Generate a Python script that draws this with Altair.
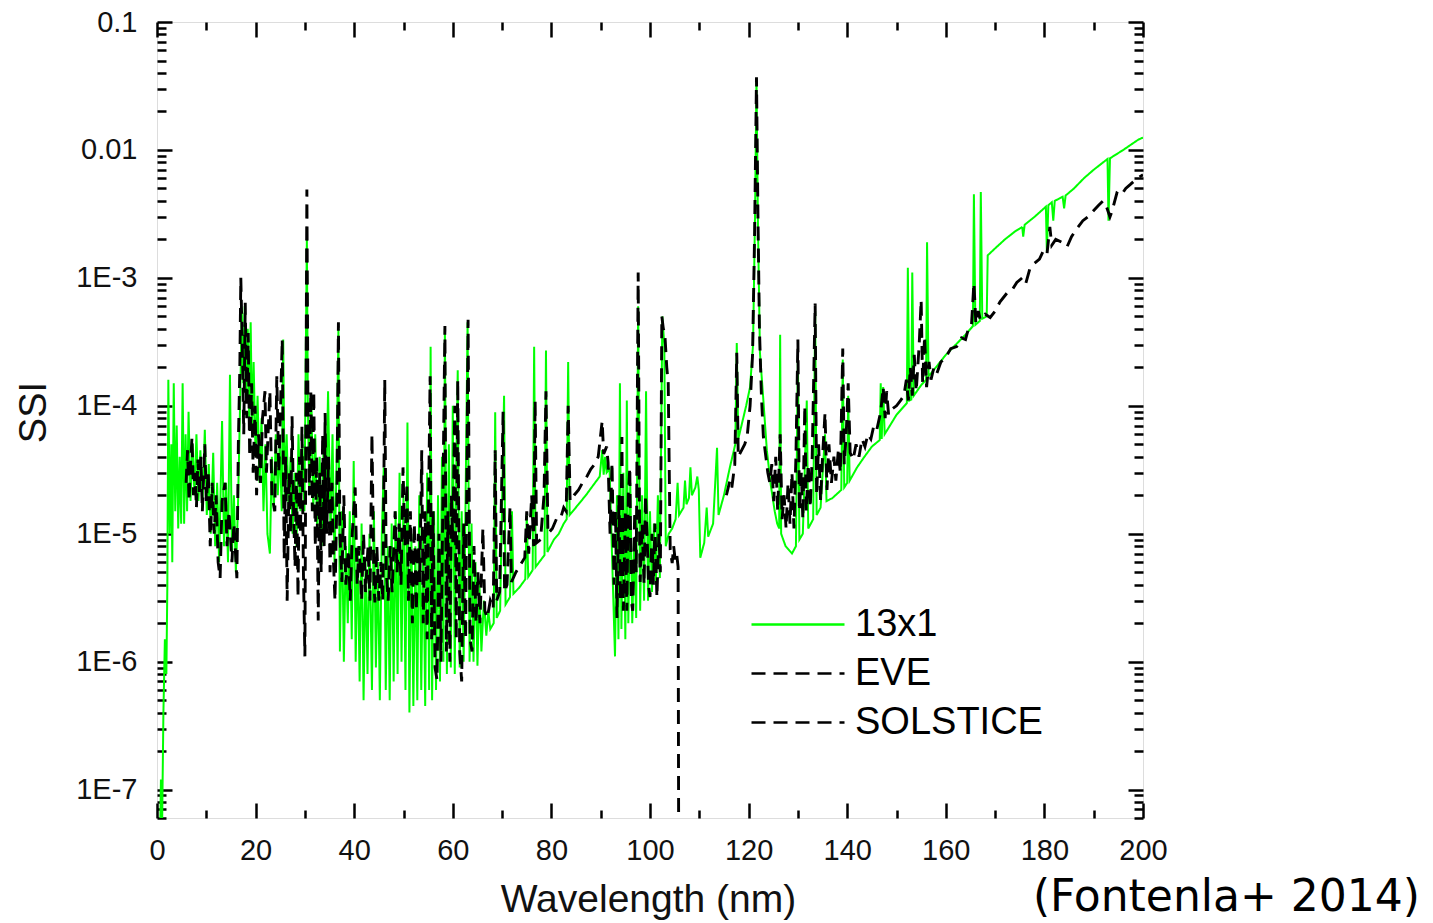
import altair as alt
import pandas as pd

# ---- data: (wavelength nm, SSI) ----
GREEN_13X1 = [
    (0.5, 2e-8), (0.8, 1.2e-7), (1.0, 4e-8), (1.3, 4e-7), (1.6, 1.5e-6), (1.9, 8e-7), (2.1, 4e-6),
    (2.3, 1.6e-4), (2.6, 1e-5), (2.9, 5e-5), (3.1, 6e-6), (3.4, 1.5e-4), (3.7, 1.5e-5), (4.0, 7e-5),
    (4.3, 1.1e-5), (4.6, 4e-5), (4.9, 1.2e-5), (5.2, 1.5e-4), (5.5, 1.2e-5), (5.8, 6e-5), (6.1, 1.5e-5),
    (6.4, 9e-5), (6.8, 1.8e-5), (7.2, 5e-5), (7.6, 2e-5), (8.0, 6e-5), (8.4, 1.8e-5), (8.8, 4.5e-5),
    (9.2, 1.6e-5), (9.7, 6.5e-5), (10.1, 1.4e-5), (10.5, 3.5e-5), (10.9, 1e-5), (11.4, 4.3e-5),
    (11.8, 8e-6), (12.2, 2.5e-5), (12.6, 6e-6), (13.2, 7.6e-5), (13.6, 8e-6), (14.0, 2.5e-5),
    (14.4, 6e-6), (14.8, 1.75e-4), (15.2, 7e-6), (15.6, 2e-5), (16.0, 5e-6), (16.4, 1.5e-5),
    (16.8, 8e-5), (17.2, 5.5e-4), (17.5, 1.5e-4), (17.8, 6e-4), (18.1, 1.2e-4), (18.4, 4e-4),
    (18.7, 8e-5), (19.0, 4.5e-4), (19.3, 6e-5), (19.6, 2.2e-4), (20.0, 4e-5), (20.4, 1.2e-4),
    (20.8, 2.5e-5), (21.2, 8e-5), (21.6, 1.5e-5), (22.0, 5e-5), (22.4, 1e-5), (22.9, 7e-6),
    (23.3, 4e-5), (23.7, 1.5e-5), (24.1, 6e-5), (24.5, 2e-5), (24.9, 5e-5), (25.3, 1.5e-5),
    (25.6, 3.3e-4), (25.9, 2e-5), (26.3, 6e-5), (26.7, 1.5e-5), (27.1, 4e-5), (27.5, 1e-5),
    (27.9, 3e-5), (28.3, 8e-6), (28.7, 6e-5), (29.1, 1.5e-5), (29.5, 5e-5), (29.9, 1.5e-5),
    (30.2, 3e-4), (30.4, 2e-3), (30.6, 1e-4), (30.9, 2e-5), (31.3, 1.2e-4), (31.7, 1.5e-5),
    (32.1, 6e-5), (32.5, 1e-5), (33.0, 4e-5), (33.4, 8e-6), (33.8, 5e-5), (34.2, 1.2e-5),
    (34.7, 1.3e-4), (35.2, 1e-5), (35.6, 6e-5), (36.0, 6e-6), (36.4, 3e-5), (36.8, 4e-4),
    (37.1, 1.2e-6), (37.5, 1.5e-5), (37.9, 1e-6), (38.3, 8e-6), (38.7, 2e-6), (39.1, 1.5e-5),
    (39.5, 1.5e-6), (39.9, 3.7e-5), (40.3, 1e-6), (40.7, 8e-6), (41.1, 7e-7), (41.5, 1.2e-5),
    (41.9, 5e-7), (42.3, 6e-6), (42.7, 8e-7), (43.1, 1e-5), (43.6, 6e-7), (44.0, 1.5e-5),
    (44.4, 9e-7), (44.8, 6e-6), (45.2, 5e-7), (45.6, 1e-5), (46.0, 3.3e-5), (46.4, 6e-7),
    (46.8, 8e-6), (47.2, 5e-7), (47.6, 1.2e-5), (48.0, 7e-7), (48.4, 1.5e-5), (48.8, 8e-7),
    (49.2, 3e-5), (49.6, 1e-6), (50.0, 2e-5), (50.4, 6e-7), (50.8, 7.4e-5), (51.2, 4e-7),
    (51.6, 1e-5), (52.0, 4.5e-7), (52.4, 8e-6), (52.8, 5e-7), (53.2, 2e-5), (53.6, 6e-7),
    (54.0, 1e-5), (54.4, 4.5e-7), (54.8, 3e-5), (55.2, 6e-7), (55.5, 2.9e-4), (55.8, 5e-7),
    (56.2, 1.5e-5), (56.6, 6e-7), (57.0, 2e-5), (57.4, 7e-7), (57.8, 4e-5), (58.1, 1e-6),
    (58.4, 4e-4), (58.8, 8e-7), (59.2, 5e-5), (59.6, 9e-7), (60.0, 1e-4), (60.4, 8e-7),
    (60.7, 3e-5), (61.0, 1.9e-4), (61.4, 9e-7), (61.8, 1.5e-5), (62.2, 1e-6), (62.6, 2e-5),
    (63.0, 4.5e-4), (63.4, 1e-6), (63.8, 1.2e-5), (64.2, 1e-6), (64.6, 6e-6), (65.0, 9.3e-7),
    (65.4, 4e-6), (65.8, 1.2e-6), (66.3, 3e-6), (66.8, 1.6e-6), (67.2, 2.5e-6), (67.6, 1.8e-6),
    (68.3, 2e-6), (68.6, 8.9e-5), (68.9, 2.2e-6), (69.6, 2.5e-6), (70.4, 1.2e-4), (70.7, 2.8e-6),
    (71.6, 3.2e-6), (72.0, 1.5e-5), (72.3, 3.4e-6), (73.5, 3.8e-6), (74.7, 4.4e-6), (75.0, 1.4e-5),
    (75.3, 4.6e-6), (76.2, 5.2e-6), (76.5, 2.9e-4), (76.8, 5.5e-6), (77.8, 6.2e-6), (78.6, 6.8e-6),
    (78.9, 2.7e-4), (79.2, 7.2e-6), (80.5, 9e-6), (81.5, 1e-5), (82.5, 1.2e-5), (83.1, 1.3e-5),
    (83.4, 2.2e-4), (83.7, 1.4e-5), (85.5, 1.7e-5), (87.0, 2e-5), (88.5, 2.4e-5), (89.8, 2.8e-5),
    (90.3, 4.5e-5), (90.6, 2.9e-5), (90.9, 4e-5), (91.2, 3e-5), (91.8, 3.2e-5), (92.4, 5e-6),
    (92.9, 1.1e-6), (93.3, 2e-5), (93.6, 1.5e-6), (93.9, 1.5e-4), (94.2, 1.8e-6), (94.6, 3e-5),
    (95.0, 1.5e-6), (95.3, 1.1e-4), (95.6, 2e-6), (96.0, 2.5e-5), (96.4, 2e-6), (96.8, 8e-6),
    (97.2, 2.2e-6), (97.6, 6e-4), (98.0, 2.5e-6), (98.4, 2e-5), (98.8, 3e-6), (99.2, 1.3e-4),
    (99.6, 3e-6), (100.0, 1.5e-5), (100.4, 3.5e-6), (100.8, 1.2e-5), (101.2, 4e-6), (101.6, 2e-5),
    (102.0, 4.5e-6), (102.5, 5e-4), (102.9, 3e-4), (103.2, 8e-6), (103.8, 1e-5), (104.5, 1.1e-5),
    (105.2, 1.3e-5), (105.6, 2.5e-5), (105.9, 1.4e-5), (106.8, 1.6e-5), (107.1, 2.6e-5),
    (107.4, 1.7e-5), (107.9, 1.9e-5), (108.2, 3.3e-5), (108.5, 2e-5), (109.2, 2.3e-5),
    (109.6, 2.8e-5), (109.9, 2.2e-5), (110.2, 6.5e-6), (111.0, 8.5e-6), (111.5, 1.6e-5),
    (111.8, 9.5e-6), (112.8, 1.2e-5), (113.6, 4.7e-5), (113.9, 1.4e-5), (115.0, 2e-5),
    (116.2, 3.3e-5), (117.3, 5e-5), (117.6, 3.1e-4), (117.9, 5.5e-5), (118.7, 7.4e-5),
    (119.5, 1e-4), (120.3, 1.4e-4), (120.9, 3e-4), (121.3, 3e-3), (121.6, 3.6e-2), (121.9, 2.5e-3),
    (122.3, 2.6e-4), (123.0, 1.1e-4), (123.7, 4.5e-5), (124.5, 2.4e-5), (125.3, 1.5e-5),
    (125.8, 1.2e-5), (126.2, 1.1e-5), (126.4, 3.6e-4), (126.6, 1e-5), (127.5, 8e-6), (128.8, 7e-6),
    (129.6, 8e-6), (130.0, 2.5e-4), (130.3, 9e-6), (131.0, 1e-5), (131.8, 1.1e-4), (132.1, 1.1e-5),
    (133.1, 1.3e-5), (133.5, 5.5e-4), (133.8, 1.4e-5), (134.6, 1.6e-5), (135.5, 6e-5),
    (135.8, 1.8e-5), (137.0, 1.9e-5), (138.8, 2.2e-5), (139.1, 2.3e-4), (139.4, 2.3e-5),
    (140.0, 2.5e-5), (140.2, 1.2e-4), (140.5, 2.6e-5), (142.0, 3.3e-5), (143.5, 4e-5),
    (145.0, 4.8e-5), (146.6, 5.4e-5), (146.8, 1.5e-4), (147.0, 5.5e-5), (147.3, 1.4e-4),
    (147.6, 6e-5), (150.0, 8.5e-5), (152.1, 1.05e-4), (152.3, 1.2e-3), (152.6, 1.1e-4),
    (153.0, 1.12e-4), (153.2, 1.1e-3), (153.5, 1.2e-4), (155.0, 1.45e-4), (156.0, 1.6e-4),
    (156.2, 1.9e-3), (156.5, 1.7e-4), (158.0, 2e-4), (160.0, 2.5e-4), (162.0, 3e-4),
    (164.0, 3.6e-4), (165.5, 4.2e-4), (165.7, 4.5e-3), (166.0, 4.3e-4), (166.9, 4.6e-4),
    (167.1, 4.7e-3), (167.4, 4.8e-4), (168.3, 5e-4), (168.5, 1.5e-3), (170.0, 1.7e-3),
    (172.0, 2e-3), (174.0, 2.3e-3), (175.5, 2.5e-3), (175.7, 2.1e-3), (176.0, 2.6e-3),
    (178.0, 3e-3), (180.3, 3.6e-3), (180.5, 1.6e-3), (180.8, 3.7e-3), (181.5, 3.9e-3),
    (181.8, 2.8e-3), (182.1, 4e-3), (183.7, 4.3e-3), (184.0, 3.5e-3), (184.3, 4.4e-3),
    (186.0, 5e-3), (188.0, 6e-3), (190.0, 7e-3), (192.8, 8.5e-3), (193.0, 2.8e-3),
    (193.3, 8.6e-3), (196.0, 1e-2), (199.0, 1.2e-2), (200.0, 1.25e-2),
]

EVE = [
    (5.9, 2.5e-5), (6.2, 4.5e-5), (6.5, 1.8e-5), (6.8, 3.5e-5), (7.1, 5.7e-5), (7.4, 2e-5),
    (7.7, 3e-5), (8.0, 1.6e-5), (8.3, 3.8e-5), (8.6, 2e-5), (8.9, 4e-5), (9.2, 1.5e-5),
    (9.7, 5e-5), (10.0, 1.8e-5), (10.4, 3e-5), (10.8, 8e-6), (11.2, 2.5e-5), (11.6, 1e-5),
    (12.0, 2e-5), (12.4, 6e-6), (12.8, 4.5e-6), (13.2, 1.8e-5), (13.8, 2.5e-5), (14.2, 8e-6),
    (14.6, 1.5e-5), (15.2, 6e-6), (15.6, 1.2e-5), (16.2, 4.5e-6), (16.5, 5e-5), (16.8, 2e-4),
    (17.0, 1e-3), (17.3, 3e-4), (17.6, 6e-5), (17.9, 6.4e-4), (18.2, 8e-5), (18.5, 3.7e-4),
    (18.8, 4e-5), (19.2, 1.5e-4), (19.5, 3e-5), (19.9, 1e-4), (20.2, 2e-5), (20.6, 6e-5),
    (21.0, 2.5e-5), (21.4, 8e-5), (21.9, 1.3e-4), (22.2, 3e-5), (22.6, 7e-5), (22.9, 1.3e-4),
    (23.3, 2e-5), (23.9, 1.5e-5), (24.3, 1.7e-4), (24.7, 3e-5), (25.0, 8e-5), (25.4, 3.3e-4),
    (25.8, 6.3e-6), (26.1, 4e-5), (26.4, 3e-6), (26.8, 3e-5), (27.1, 1e-5), (27.4, 8.3e-5),
    (27.7, 1.5e-5), (28.0, 5.5e-6), (28.3, 3e-5), (28.6, 3.2e-6), (28.9, 4e-5), (29.1, 1e-5),
    (29.4, 6.9e-5), (29.7, 5e-6), (30.0, 1.1e-6), (30.4, 4.9e-3), (30.6, 1.3e-4), (30.9, 2e-5),
    (31.2, 1.3e-4), (31.5, 1.5e-5), (31.8, 1.3e-4), (32.1, 8e-6), (32.4, 4e-5), (32.7, 2.1e-6),
    (33.0, 3e-5), (33.3, 5e-6), (33.6, 6e-5), (33.9, 8e-6), (34.1, 8.8e-5), (34.4, 1e-5),
    (34.8, 4e-5), (35.1, 5e-6), (35.5, 2.5e-5), (35.8, 6e-6), (36.1, 3e-6), (36.5, 2e-5),
    (36.8, 4.5e-4), (37.1, 1e-5), (37.5, 4.2e-6), (37.9, 2e-5), (38.3, 4e-6), (38.8, 7.5e-6),
    (39.2, 3e-6), (39.6, 1e-5), (40.2, 2.3e-5), (40.6, 4e-6), (41.0, 8e-6), (41.5, 3e-6),
    (41.9, 1e-5), (42.3, 3.5e-6), (42.8, 8e-6), (43.2, 3e-6), (43.6, 6e-5), (44.0, 4e-6),
    (44.2, 2.9e-6), (44.6, 8e-6), (45.0, 3e-6), (45.4, 6e-6), (45.8, 3e-6), (46.2, 1.6e-4),
    (46.5, 5e-6), (46.9, 3e-6), (47.3, 8e-6), (47.7, 3.5e-6), (48.3, 1.5e-5), (48.7, 5e-6),
    (49.1, 1.2e-5), (49.5, 4e-6), (49.9, 3.3e-5), (50.3, 8e-6), (50.7, 2.5e-5), (51.0, 3e-6),
    (51.4, 1.5e-5), (51.8, 2e-6), (52.2, 1.2e-5), (52.6, 2.5e-6), (53.0, 1e-5), (53.3, 4.2e-6),
    (53.7, 4.5e-5), (54.0, 2e-6), (54.4, 1.5e-5), (54.8, 1.5e-6), (55.1, 2e-5), (55.4, 1.7e-4),
    (55.7, 1.5e-6), (56.0, 1.5e-5), (56.4, 9e-7), (56.8, 7.2e-7), (57.2, 1e-5), (57.6, 1e-6),
    (58.0, 2e-5), (58.4, 4.2e-4), (58.7, 1.2e-6), (59.0, 1.5e-5), (59.4, 1e-6), (59.7, 2e-5),
    (60.0, 8.6e-6), (60.4, 1e-4), (60.7, 1.5e-6), (61.0, 1.6e-4), (61.4, 1.2e-6), (61.8, 7e-7),
    (62.2, 1.2e-5), (62.6, 1.5e-6), (63.1, 4.7e-4), (63.5, 1.5e-6), (63.9, 1.2e-6), (64.3, 8e-6),
    (64.7, 2e-6), (65.1, 5e-6), (65.5, 2e-6), (66.1, 1.1e-5), (66.5, 2.5e-6), (67.0, 2.2e-6),
    (67.6, 3e-6), (68.2, 2.6e-6), (68.6, 4.5e-5), (68.9, 3e-6), (69.5, 3.5e-6), (70.2, 9e-5),
    (70.5, 3.5e-6), (71.0, 4e-6), (71.6, 1.6e-5), (71.9, 4.2e-6), (72.8, 5e-6), (73.8, 5.8e-6),
    (74.6, 6.5e-6), (75.0, 1.5e-5), (75.4, 7e-6), (76.0, 2e-5), (76.4, 8e-6), (76.7, 1.1e-4),
    (77.0, 8.5e-6), (77.8, 9e-6), (78.5, 2e-5), (78.9, 1.3e-4), (79.3, 1e-5), (80.2, 1.1e-5),
    (81.0, 1.3e-5), (81.8, 1.3e-5), (82.5, 1.6e-5), (83.0, 1.5e-5), (83.4, 1e-4), (83.8, 1.8e-5),
    (84.6, 2e-5), (85.5, 2.2e-5), (86.3, 2.5e-5), (87.2, 2.8e-5), (88.0, 3.2e-5), (88.8, 3.5e-5),
    (89.5, 4e-5), (90.3, 7.6e-5), (90.6, 4.2e-5), (91.2, 4.8e-5), (91.5, 3.6e-5), (91.9, 1e-5),
    (92.3, 3.6e-5), (92.7, 4e-6), (93.0, 1.5e-5), (93.3, 2.2e-6), (93.7, 2e-5), (94.0, 3e-6),
    (94.3, 5.7e-5), (94.6, 2.5e-6), (95.0, 1.5e-5), (95.3, 2.5e-6), (95.6, 2e-5), (95.9, 3.3e-5),
    (96.2, 3e-6), (96.5, 2.5e-6), (96.9, 1.5e-5), (97.2, 5e-6), (97.6, 1.1e-3), (97.9, 8e-6),
    (98.0, 4.2e-6), (98.4, 1.2e-5), (98.8, 4e-6), (99.1, 2e-5), (99.4, 1e-5), (99.7, 4e-6),
    (100.0, 3.2e-6), (100.4, 1e-5), (100.7, 4e-6), (101.0, 1.2e-5), (101.4, 3.2e-6),
    (101.8, 1e-5), (102.1, 5e-6), (102.4, 5e-4), (102.7, 4e-4), (103.0, 3.7e-4), (103.4, 2e-4),
    (103.7, 1.5e-4), (104.0, 1.5e-5), (104.1, 7.5e-6), (104.5, 5.9e-6), (104.8, 8e-6),
    (105.1, 6.3e-6), (105.4, 7e-6), (105.7, 5.5e-6), (105.9, 1e-9),
]

SOLSTICE = [
    (115.5, 2e-5), (116.2, 2.6e-5), (116.6, 2.3e-5), (117.2, 3.5e-5), (117.6, 2.6e-4),
    (117.9, 4e-5), (118.6, 4.5e-5), (119.2, 5e-5), (119.7, 5.7e-5), (120.3, 1e-4), (120.8, 2.5e-4),
    (121.2, 2e-3), (121.6, 3.7e-2), (121.9, 3e-3), (122.2, 4e-4), (122.6, 1.2e-4), (123.0, 5.7e-5),
    (123.5, 4e-5), (123.9, 3e-5), (124.3, 2.5e-5), (124.7, 3.5e-5), (125.1, 1.8e-5), (125.5, 4e-5),
    (125.9, 1.5e-5), (126.4, 6e-5), (126.8, 1.3e-5), (127.2, 2e-5), (127.6, 1.1e-5), (128.0, 2.5e-5),
    (128.4, 1.2e-5), (128.8, 3e-5), (129.2, 1.1e-5), (129.6, 4e-5), (130.0, 3.3e-4), (130.3, 1.5e-5),
    (130.7, 3e-5), (131.0, 1.3e-5), (131.4, 1e-4), (131.7, 1.5e-5), (132.1, 3.5e-5), (132.5, 1.6e-5),
    (132.9, 4e-5), (133.5, 6.3e-4), (133.8, 2e-5), (134.2, 5e-5), (134.6, 1.8e-5), (135.0, 4e-5),
    (135.5, 8.8e-5), (135.9, 2.2e-5), (136.3, 5e-5), (136.8, 2.5e-5), (137.3, 4e-5), (137.7, 2.6e-5),
    (138.2, 4.5e-5), (138.6, 3e-5), (139.1, 2.8e-4), (139.4, 3.5e-5), (139.8, 6e-5), (140.2, 1.5e-4),
    (140.6, 4.3e-5), (141.2, 3.8e-5), (141.8, 5e-5), (142.4, 4e-5), (143.0, 5.5e-5), (143.6, 4.8e-5),
    (144.2, 6e-5), (144.8, 5.5e-5), (145.4, 7e-5), (146.0, 6.5e-5), (146.8, 9e-5), (147.3, 1.4e-4),
    (147.7, 8e-5), (148.0, 1.3e-4), (148.4, 8.5e-5), (149.2, 9.5e-5), (150.0, 1e-4), (150.8, 1.1e-4),
    (151.5, 1.2e-4), (152.0, 1.6e-4), (152.4, 1.1e-4), (152.8, 2e-4), (153.2, 1.2e-4), (153.6, 2.5e-4),
    (154.0, 1.3e-4), (154.6, 3e-4), (155.0, 6.7e-4), (155.3, 1.5e-4), (155.7, 3.5e-4), (156.1, 1.4e-4),
    (156.6, 2.2e-4), (157.0, 1.6e-4), (157.6, 2e-4), (158.2, 1.8e-4), (159.0, 2.2e-4), (160.0, 2.4e-4),
    (161.0, 2.8e-4), (162.2, 2.9e-4), (163.2, 3.4e-4), (164.0, 3.3e-4), (164.5, 3.9e-4),
    (165.2, 4.2e-4), (165.7, 9.1e-4), (166.1, 4.4e-4), (166.6, 5.5e-4), (167.0, 4.7e-4),
    (168.0, 5.2e-4), (169.0, 4.9e-4), (170.0, 5.5e-4), (171.0, 6.5e-4), (172.4, 7.6e-4),
    (173.4, 8e-4), (174.4, 9.2e-4), (175.5, 1e-3), (176.2, 9e-4), (177.1, 1.2e-3), (178.0, 1.3e-3),
    (179.0, 1.4e-3), (179.7, 1.6e-3), (180.5, 1.5e-3), (181.1, 2.5e-3), (181.5, 1.8e-3),
    (182.3, 2e-3), (183.5, 1.9e-3), (184.6, 1.75e-3), (185.5, 2.1e-3), (186.5, 2.4e-3),
    (187.8, 2.8e-3), (188.8, 3e-3), (189.8, 3.3e-3), (191.0, 3.7e-3), (191.9, 4e-3), (192.6, 3.6e-3),
    (193.3, 3e-3), (193.7, 3.3e-3), (194.7, 4.6e-3), (195.5, 4.4e-3), (196.5, 5e-3), (197.5, 5.4e-3),
    (198.8, 6e-3), (200.0, 6.4e-3),
]

SERIES = ["13x1", "EVE", "SOLSTICE"]
COLORS = ["#00ff00", "#000000", "#000000"]
DASHES = [[1, 0], [14, 8], [14, 8]]

X_MAJOR = [0, 20, 40, 60, 80, 100, 120, 140, 160, 180, 200]
X_MINOR = [10, 30, 50, 70, 90, 110, 130, 150, 170, 190]
Y_MAJOR = [1e-7, 1e-6, 1e-5, 1e-4, 1e-3, 1e-2, 1e-1]
Y_MINOR = [m * 10.0 ** e for e in range(-8, -1) for m in range(2, 10) if 6e-8 <= m * 10.0 ** e <= 0.1]

W, H = 986, 796
FONT = "Liberation Sans"

rows = []
for name, pts in zip(SERIES, [GREEN_13X1, EVE, SOLSTICE]):
    for w, v in pts:
        rows.append({"wl": w, "ssi": v, "series": name})
df = pd.DataFrame(rows)

xscale = alt.Scale(domain=[0, 200], nice=False, zero=False)
yscale = alt.Scale(type="log", domain=[6e-8, 0.1], nice=False)

leg = alt.Legend(
    title=None, orient="none", legendX=593, legendY=578, symbolType="stroke",
    symbolSize=8649, symbolStrokeWidth=2.6, labelFont=FONT, labelFontSize=38,
    labelColor="black", labelOffset=9, labelLimit=500, clipHeight=49, rowPadding=0, padding=0,
)
color = alt.Color("series:N", scale=alt.Scale(domain=SERIES, range=COLORS), legend=leg)
dash = alt.StrokeDash("series:N", scale=alt.Scale(domain=SERIES, range=DASHES), legend=leg)

x_major_test = {"condition": {"test": "datum.value % 20 == 0", "value": 15}, "value": 8}
y_major_test = {"condition": {"test": "abs(log(datum.value)/LN10 - round(log(datum.value)/LN10)) < 0.01", "value": 15}, "value": 9}
tick_common = dict(labels=False, title=None, domain=False, grid=False, ticks=True,
                   tickColor="black", tickWidth=2.5)

x_label_axis = alt.Axis(
    orient="bottom", values=X_MAJOR, ticks=False, tickSize=0, domain=False, grid=False,
    labelFont=FONT, labelFontSize=29, labelColor="#111", labelPadding=18, labelFlush=False,
    labelOverlap=False, title="Wavelength (nm)", titleFont=FONT, titleFontSize=39,
    titleFontWeight="normal", titleColor="#111", titleX=491, titleY=93,
    titleBaseline="alphabetic", titleAlign="center",
)
y_label_axis = alt.Axis(
    orient="left", values=Y_MAJOR, ticks=False, tickSize=0, domain=False, grid=False,
    labelExpr="datum.value > 0.05 ? '0.1' : datum.value > 0.005 ? '0.01' : '1E' + round(log(datum.value)/LN10)",
    labelFont=FONT, labelFontSize=29, labelColor="#111", labelPadding=20, labelOverlap=False,
    title="SSI", titleFont=FONT, titleFontSize=38, titleFontWeight="normal", titleColor="#111",
    titleAngle=270, titleX=-112, titleY=390, titleBaseline="alphabetic", titleAlign="center",
)
# inward ticks: bottom edge (orient top shifted down), left edge (orient right shifted left)
x_in_bottom = alt.Axis(orient="top", offset=-H, values=X_MAJOR + X_MINOR, tickSize=x_major_test, **tick_common)
y_in_left = alt.Axis(orient="right", offset=-W, values=Y_MAJOR + Y_MINOR, tickSize=y_major_test, **tick_common)
# inward ticks: top edge (orient bottom shifted up), right edge (orient left shifted right)
x_in_top = alt.Axis(orient="bottom", offset=-H, values=X_MAJOR + X_MINOR, tickSize=x_major_test, **tick_common)
y_in_right = alt.Axis(orient="left", offset=-W, values=Y_MAJOR + Y_MINOR, tickSize=y_major_test, **tick_common)


def layer(name, width, xaxis, yaxis):
    return (
        alt.Chart(df)
        .transform_filter(alt.datum.series == name)
        .mark_line(strokeWidth=width, clip=True, strokeJoin="miter")
        .encode(
            x=alt.X("wl:Q", scale=xscale, axis=xaxis),
            y=alt.Y("ssi:Q", scale=yscale, axis=yaxis),
            color=color,
            strokeDash=dash,
        )
    )


chart = (
    alt.layer(
        layer("13x1", 2.0, x_label_axis, y_label_axis),
        layer("EVE", 2.9, x_in_bottom, y_in_left),
        layer("SOLSTICE", 2.9, x_in_top, y_in_right),
    )
    .resolve_axis(x="independent", y="independent")
    .properties(
        width=W, height=H,
        autosize=alt.AutoSizeParams(type="none"),
        padding={"left": 157, "top": 22, "right": 290, "bottom": 105},
        title=alt.TitleParams(
            "(Fontenla+ 2014)", orient="bottom", anchor="end", frame="group",
            font="DejaVu Sans", fontSize=44, fontWeight="normal", color="black",
            baseline="alphabetic", dx=277, dy=-12,
        ),
    )
    .configure_view(stroke="black", strokeWidth=2.5)
    .configure(background="white")
)

chart.save("out.html", embed_options={"renderer": "svg", "actions": False})
